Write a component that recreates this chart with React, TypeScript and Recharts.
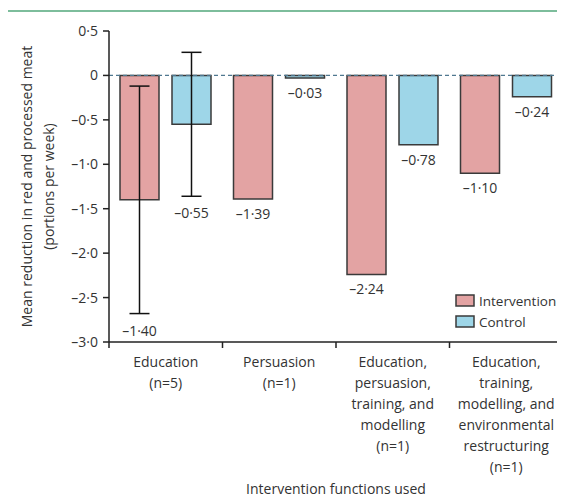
import React from "react";
import {
  BarChart,
  Bar,
  XAxis,
  YAxis,
  ErrorBar,
  LabelList,
  ReferenceLine,
  Legend,
} from "recharts";

const categories: string[][] = [
  ["Education", "(n=5)"],
  ["Persuasion", "(n=1)"],
  ["Education,", "persuasion,", "training, and", "modelling", "(n=1)"],
  ["Education,", "training,", "modelling, and", "environmental", "restructuring", "(n=1)"],
];
const interventionValues = [-1.4, -1.39, -2.24, -1.1];
const controlValues = [-0.55, -0.03, -0.78, -0.24];
const interventionErrors: (number | null)[] = [1.28, null, null, null];
const controlErrors: (number | null)[] = [0.81, null, null, null];
const yTicks = [0.5, 0, -0.5, -1, -1.5, -2, -2.5, -3];
const seriesNames = ["Intervention", "Control"];

const FONT = "'Open Sans', 'Noto Sans', sans-serif";
const TEXT = "#333333";
const INT_FILL = "#e3a3a3";
const CTRL_FILL = "#9ed6e8";
const STROKE = "#3a3a3a";

const categoryIds = categories.map((l) => l.join(" "));

const data = categoryIds.map((id, i) => ({
  cat: id,
  intervention: interventionValues[i],
  control: controlValues[i],
  intErr: interventionErrors[i],
  ctrlErr: controlErrors[i],
}));

const fmtTick = (v: number) => {
  if (v === 0) return "0";
  return (v < 0 ? "\u2013" : "") + Math.abs(v).toFixed(1).replace(".", "\u00b7");
};
const fmtVal = (v: number) =>
  (v < 0 ? "\u2013" : "") + Math.abs(v).toFixed(2).replace(".", "\u00b7");

const TICK_SIZE = 6;
const TICK_MARGIN = 8;

const CategoryTick = (props: any) => {
  const { x, y, payload, index, visibleTicksCount } = props;
  const lines = categories[categoryIds.indexOf(payload.value)] || [String(payload.value)];
  const half = payload.offset || 56.75;
  const axisY = y - TICK_SIZE - TICK_MARGIN;
  const isLast = index === (visibleTicksCount ? visibleTicksCount - 1 : categories.length - 1);
  return (
    <g>
      <line x1={x - half} x2={x - half} y1={axisY} y2={axisY + 6} stroke="#222" strokeWidth={1.5} />
      {isLast && (
        <line x1={x + half} x2={x + half} y1={axisY} y2={axisY + 6} stroke="#222" strokeWidth={1.5} />
      )}
      <text x={x} y={axisY + 25} textAnchor="middle" fontFamily={FONT} fontSize={14} fill={TEXT}>
        {lines.map((l, i) => (
          <tspan key={i} x={x} dy={i === 0 ? 0 : 21}>
            {l}
          </tspan>
        ))}
      </text>
    </g>
  );
};

const makeValueLabel = (errors: (number | null)[]) => (props: any) => {
  const vb = props.viewBox || props;
  const x = Number(vb.x ?? props.x);
  const y = Number(vb.y ?? props.y);
  const width = Number(vb.width ?? props.width);
  const height = Number(vb.height ?? props.height);
  const value = Number(props.value);
  const idx = props.index;
  const bottom = Math.max(y, y + height);
  const err = errors[idx];
  const pxPerUnit = value !== 0 ? Math.abs(height) / Math.abs(value) : 0;
  const extra = err ? err * pxPerUnit : 0;
  return (
    <text
      x={x + width / 2}
      y={bottom + extra + (err ? 22 : 20)}
      textAnchor="middle"
      fontFamily={FONT}
      fontSize={14}
      fill={TEXT}
    >
      {fmtVal(value)}
    </text>
  );
};

const YLabel = (props: any) => {
  const vb = props.viewBox || { x: 0, y: 31, width: 109, height: 311 };
  const cy = vb.y + vb.height / 2;
  const x1 = vb.x + 32;
  const x2 = vb.x + 54;
  return (
    <g>
      <text
        x={x1}
        y={cy}
        transform={`rotate(-90 ${x1} ${cy})`}
        textAnchor="middle"
        fontFamily={FONT}
        fontSize={14}
        fill={TEXT}
      >
        Mean reduction in red and processed meat
      </text>
      <text
        x={x2}
        y={cy}
        transform={`rotate(-90 ${x2} ${cy})`}
        textAnchor="middle"
        fontFamily={FONT}
        fontSize={14}
        fill={TEXT}
      >
        (portions per week)
      </text>
    </g>
  );
};

const XLabel = (props: any) => {
  const vb = props.viewBox || { x: 109, y: 342, width: 454, height: 120 };
  return (
    <text
      x={vb.x + vb.width / 2}
      y={494}
      textAnchor="middle"
      fontFamily={FONT}
      fontSize={14}
      fill={TEXT}
    >
      Intervention functions used
    </text>
  );
};

const LegendContent = () => {
  const fills = [INT_FILL, CTRL_FILL];
  return (
    <div style={{ fontFamily: FONT, fontSize: 13.5, color: TEXT }}>
      {seriesNames.map((n, i) => (
        <div key={n} style={{ display: "flex", alignItems: "center", height: 21, whiteSpace: "nowrap" }}>
          <svg width={20} height={13} style={{ marginRight: 4 }}>
            <rect x={1} y={1} width={18} height={11} fill={fills[i]} stroke={STROKE} strokeWidth={1.5} />
          </svg>
          <span>{n}</span>
        </div>
      ))}
    </div>
  );
};

export default function App() {
  return (
    <div style={{ position: "relative", width: 565, height: 502, margin: -8, background: "#fff", overflow: "hidden" }}>
      <div
        style={{
          position: "absolute",
          left: 6,
          top: 10,
          width: 700,
          height: 700,
          borderLeft: "2px solid #7dbd9c",
          borderTop: "2px solid #7dbd9c",
        }}
      />
      <div style={{ position: "absolute", left: 0, top: 0 }}>
        <BarChart
          width={565}
          height={502}
          data={data}
          margin={{ top: 31, right: 2, bottom: 40, left: 0 }}
          barSize={39}
          barGap={13}
        >
          <XAxis
            dataKey="cat"
            type="category"
            height={120}
            axisLine={{ stroke: "#222", strokeWidth: 1.5 }}
            tickLine={false}
            tickSize={TICK_SIZE}
            tickMargin={TICK_MARGIN}
            tick={<CategoryTick />}
            interval={0}
            label={<XLabel />}
          />
          <YAxis
            type="number"
            domain={[-3, 0.5]}
            ticks={yTicks}
            width={109}
            axisLine={{ stroke: "#222", strokeWidth: 1.5 }}
            tickLine={{ stroke: "#222", strokeWidth: 1.5 }}
            tickSize={6}
            tickMargin={5}
            tickFormatter={fmtTick}
            tick={{ fontFamily: FONT, fontSize: 14, fill: TEXT }}
            interval={0}
            label={<YLabel />}
          />
          <Legend
            layout="vertical"
            align="center"
            verticalAlign="middle"
            wrapperStyle={{ left: 455, top: 290, width: 110 }}
            content={<LegendContent />}
          />
          <Bar
            dataKey="intervention"
            name={seriesNames[0]}
            fill={INT_FILL}
            stroke={STROKE}
            strokeWidth={1.5}
            isAnimationActive={false}
          >
            <ErrorBar dataKey="intErr" width={10} stroke="#111" strokeWidth={1.5} direction="y" />
            <LabelList dataKey="intervention" content={makeValueLabel(interventionErrors)} />
          </Bar>
          <Bar
            dataKey="control"
            name={seriesNames[1]}
            fill={CTRL_FILL}
            stroke={STROKE}
            strokeWidth={1.5}
            isAnimationActive={false}
          >
            <ErrorBar dataKey="ctrlErr" width={10} stroke="#111" strokeWidth={1.5} direction="y" />
            <LabelList dataKey="control" content={makeValueLabel(controlErrors)} />
          </Bar>
          <ReferenceLine y={0} stroke="#4f7890" strokeWidth={1.2} strokeDasharray="4 3" />
        </BarChart>
      </div>
    </div>
  );
}
